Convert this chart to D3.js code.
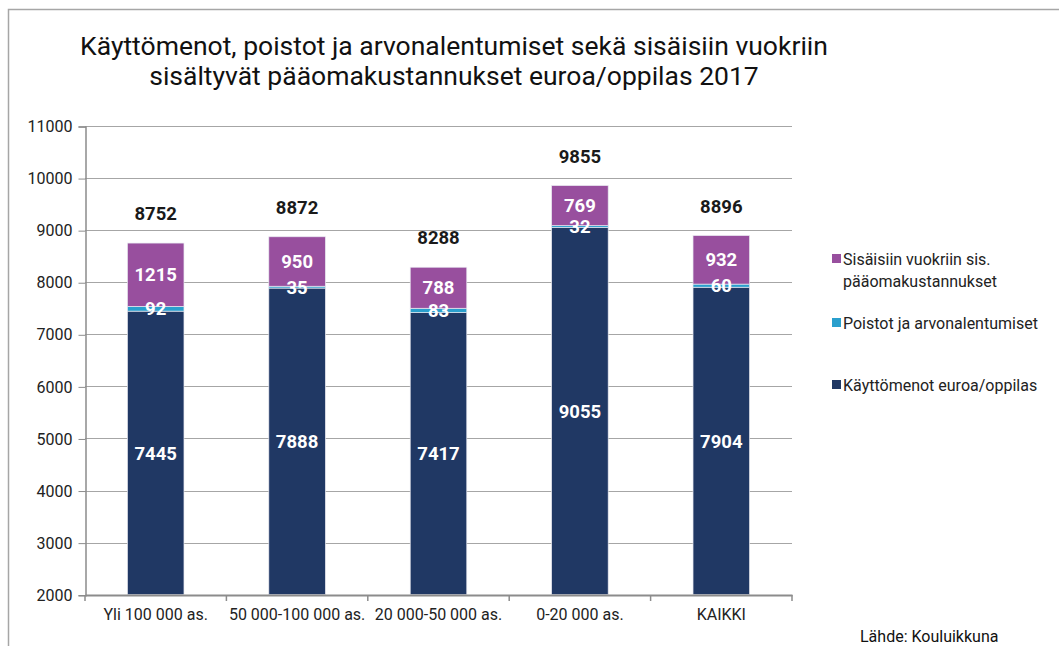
<!DOCTYPE html>
<html>
<head>
<meta charset="utf-8">
<script src="https://cdn.jsdelivr.net/npm/d3@7"></script>
<style>
  body { margin: 0; background: #fff; }
  svg { display: block; font-family: Roboto, "Noto Sans", sans-serif; }
</style>
</head>
<body>
<svg id="chart" width="1059" height="646"></svg>
<script>
// data
const categories = ['Yli 100 000 as.', '50 000-100 000 as.', '20 000-50 000 as.', '0-20 000 as.', 'KAIKKI'];
const kayttomenot = [7445, 7888, 7417, 9055, 7904];
const poistot = [92, 35, 83, 32, 60];
const vuokrat = [1215, 950, 788, 769, 932];
const totals = [8752, 8872, 8288, 9855, 8896];
const yTicks = [2000, 3000, 4000, 5000, 6000, 7000, 8000, 9000, 10000, 11000];
const seriesNames = ['Käyttömenot euroa/oppilas', 'Poistot ja arvonalentumiset', 'Sisäisiin vuokriin sis. pääomakustannukset'];
const colors = ['#203864', '#2a9fcd', '#984f9e'];
const titleLines = ['Käyttömenot, poistot ja arvonalentumiset sekä sisäisiin vuokriin',
                    'sisältyvät pääomakustannukset euroa/oppilas 2017'];

const svg = d3.select('#chart');

// outer frame (right and bottom edges fall outside the picture)
svg.append('rect')
  .attr('x', 8.5).attr('y', 9.5)
  .attr('width', 1100).attr('height', 700)
  .attr('fill', 'none').attr('stroke', '#a6a6a6').attr('stroke-width', 1.5);

// title
svg.append('text')
  .attr('x', 454).attr('y', 55)
  .attr('text-anchor', 'middle')
  .attr('font-size', 26.5).attr('fill', '#111')
  .selectAll('tspan')
  .data(titleLines)
  .join('tspan')
  .attr('x', 454)
  .attr('dy', (d, i) => i === 0 ? 0 : 30)
  .text(d => d);

const x = d3.scaleBand().domain(categories).range([85, 792]).padding(0);
const y = d3.scaleLinear().domain([2000, 11000]).range([594.7, 126]);
const yc = v => y(Math.max(v, 2000));

// gridlines
svg.append('g')
  .selectAll('line')
  .data(yTicks.filter(d => d > 2000))
  .join('line')
  .attr('x1', 85).attr('x2', 792)
  .attr('y1', d => Math.round(y(d)) + 0.5).attr('y2', d => Math.round(y(d)) + 0.5)
  .attr('stroke', '#a6a6a6');

// y axis
const yAxis = svg.append('g')
  .attr('transform', 'translate(85.5,0.5)')
  .call(d3.axisLeft(y).tickValues(yTicks).tickFormat(d3.format('d')).tickSize(7).tickPadding(6));
yAxis.select('.domain').attr('stroke', '#8c8c8c').attr('stroke-width', 1.5);
yAxis.selectAll('.tick line').attr('stroke', '#8c8c8c');
yAxis.selectAll('.tick text').attr('font-size', 16).attr('fill', '#222').attr('font-family', 'Roboto');

// stacked data
const stackRows = categories.map((c, i) => ({
  cat: c, s0: kayttomenot[i], s1: poistot[i], s2: vuokrat[i]
}));
const stacked = d3.stack().keys(['s0', 's1', 's2'])(stackRows);

const barW = x.bandwidth() * 0.4;
const barX = d => x(d.data.cat) + (x.bandwidth() - barW) / 2;

const layers = svg.append('g')
  .selectAll('g')
  .data(stacked)
  .join('g')
  .attr('fill', (d, i) => colors[i]);

layers.selectAll('rect')
  .data(d => d)
  .join('rect')
  .attr('x', barX)
  .attr('y', d => yc(d[1]))
  .attr('width', barW)
  .attr('height', d => yc(d[0]) - yc(d[1]))
  .attr('stroke', '#e8e8f0').attr('stroke-width', 0.7);

// x axis
const xAxis = svg.append('g')
  .attr('transform', 'translate(0,595)')
  .call(d3.axisBottom(x).tickSize(0).tickPadding(14));
xAxis.select('.domain').attr('stroke', '#8c8c8c').attr('stroke-width', 2);
xAxis.selectAll('.tick text').attr('font-size', 16).attr('fill', '#222').attr('font-family', 'Roboto');
svg.append('g')
  .selectAll('line')
  .data(categories.map(c => x(c)).concat([x.range()[1]]))
  .join('line')
  .attr('x1', d => d).attr('x2', d => d)
  .attr('y1', 595).attr('y2', 601)
  .attr('stroke', '#8c8c8c').attr('stroke-width', 1.5);

// segment labels, drawn above all bars
svg.append('g')
  .selectAll('g')
  .data(stacked)
  .join('g')
  .selectAll('text')
  .data(d => d.map(p => ({ p, v: p[1] - p[0] })))
  .join('text')
  .attr('x', d => barX(d.p) + barW / 2)
  .attr('y', d => (yc(d.p[0]) + yc(d.p[1])) / 2)
  .attr('dy', '0.36em')
  .attr('text-anchor', 'middle')
  .attr('font-size', 18.5).attr('font-weight', 'bold').attr('fill', '#fff')
  .text(d => d.v);

// total labels
svg.append('g')
  .selectAll('text')
  .data(categories)
  .join('text')
  .attr('x', c => x(c) + x.bandwidth() / 2)
  .attr('y', (c, i) => y(totals[i]) - 23)
  .attr('text-anchor', 'middle')
  .attr('font-size', 18.5).attr('font-weight', 'bold').attr('fill', '#1a1a1a')
  .text((c, i) => totals[i]);

// legend
const legendItems = [
  { lines: ['Sisäisiin vuokriin sis.', 'pääomakustannukset'], color: colors[2], y: 259 },
  { lines: [seriesNames[1]], color: colors[1], y: 323 },
  { lines: [seriesNames[0]], color: colors[0], y: 385 }
];
const lg = svg.append('g').selectAll('g').data(legendItems).join('g');
lg.append('rect')
  .attr('x', 832).attr('y', d => d.y - 5)
  .attr('width', 9).attr('height', 9)
  .attr('fill', d => d.color);
lg.append('text')
  .attr('font-size', 16).attr('fill', '#222')
  .selectAll('tspan')
  .data(d => d.lines.map((l, i) => ({ l, i, y: d.y })))
  .join('tspan')
  .attr('x', 843)
  .attr('y', d => d.y + d.i * 22)
  .attr('dy', '0.36em')
  .text(d => d.l);

// source
svg.append('text')
  .attr('x', 860).attr('y', 642)
  .attr('font-size', 16).attr('fill', '#111')
  .text('Lähde: Kouluikkuna');
</script>
</body>
</html>
